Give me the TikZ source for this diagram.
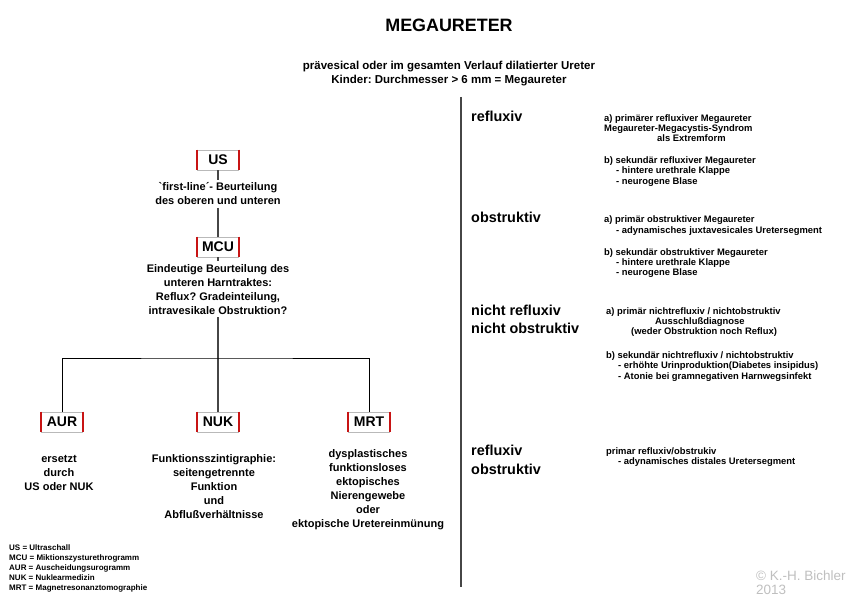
\documentclass[tikz,border=0pt]{standalone}
\usepackage{fontspec}
\setmainfont{Liberation Sans}
\frenchspacing
\definecolor{tagred}{RGB}{200,20,20}
\definecolor{trunkgray}{RGB}{70,70,70}

\begin{document}
\begin{tikzpicture}[
  x=1pt, y=-1pt,
  tag/.style={rectangle, draw=gray!55, fill=white, line width=0.8pt,
              minimum width=41pt, minimum height=20pt, inner sep=0pt,
              font=\fontsize{14}{14}\selectfont\bfseries},
  redbar/.style={draw=tagred, line width=2.6pt},
  treetext/.style={align=center, inner sep=0pt, outer sep=3pt, anchor=base,
                   font=\fontsize{11}{14}\selectfont\bfseries},
  kind/.style={align=left, inner sep=0pt, anchor=base west,
               font=\fontsize{14.4}{18.3}\selectfont\bfseries},
  detail/.style={align=left, inner sep=0pt, anchor=base west,
                 font=\fontsize{9.4}{10.4}\selectfont\bfseries},
  legend/.style={align=left, inner sep=0pt, anchor=base west,
                 font=\fontsize{8}{10}\selectfont\bfseries},
  trunk/.style={draw=trunkgray, line width=1.8pt},
  branch/.style={draw=black, line width=0.8pt}
]
\useasboundingbox (0,0) rectangle (855,599);

% title (multi-line nodes sit on the baseline of their last line)
\node[font=\fontsize{17.9}{18}\selectfont\bfseries] (title) at (449,25) {MEGAURETER};
\node[treetext, font=\fontsize{11.5}{14}\selectfont\bfseries] (subtitle) at (449,83.1)
  {prävesical oder im gesamten Verlauf dilatierter Ureter\\
   Kinder: Durchmesser > 6 mm = Megaureter};

% diagnostic tree
\node[tag] (us)  at (218,160) {US};
\node[treetext] (ustext) at (218,204.7)
  {\textasciigrave first-line´- Beurteilung\\des oberen und unteren};
\node[tag] (mcu) at (218,247) {MCU};
\node[treetext] (mcutext) at (218,314.3)
  {Eindeutige Beurteilung des\\unteren Harntraktes:\\
   Reflux? Gradeinteilung,\\intravesikale Obstruktion?};

\node[tag] (aur) at (62,422)  {AUR};
\node[tag] (nuk) at (218,422) {NUK};
\node[tag] (mrt) at (369,422) {MRT};

\node[treetext] (aurtext) at (59,490.3) {ersetzt\\durch\\US oder NUK};
\node[treetext] (nuktext) at (214,518.3)
  {Funktionsszintigraphie:\\seitengetrennte\\Funktion\\und\\Abflußverhältnisse};
\node[treetext] (mrttext) at (368,527.3)
  {dysplastisches\\funktionsloses\\ektopisches\\Nierengewebe\\oder\\
   ektopische Uretereinmünung};

\draw[trunk] (us) -- (ustext);
\draw[trunk] (ustext) -- (mcu);
\draw[trunk] (mcu) -- (mcutext);
\draw[trunk] (mcutext) -- (nuk);
\coordinate (split) at (218,358);
\draw[branch] (aur.north) |- (split) -| (mrt.north);

\foreach \n in {us,mcu,aur,nuk,mrt}
  \draw[redbar] (\n.north west) -- (\n.south west)
                (\n.north east) -- (\n.south east);

% legend
\node[legend] (abbrev) at (9,590.2)
  {US = Ultraschall\\MCU = Miktionszysturethrogramm\\
   AUR = Auscheidungsurogramm\\NUK = Nuklearmedizin\\
   MRT = Magnetresonanztomographie};

% separator
\coordinate (septop) at (461,97);
\coordinate (sepbot) at (461,587);
\draw[trunk] (septop) -- (sepbot);

% forms
\node[kind] (refl)  at (471,121.9) {refluxiv};
\node[kind] (obstr) at (471,222.9) {obstruktiv};
\node[kind] (nrno)  at (471,333.5) {nicht refluxiv\\nicht obstruktiv};
\node[kind] (robs)  at (471,474.2) {refluxiv\\obstruktiv};

\node[detail] (reflA) at (604,141.9)
  {a) primärer refluxiver Megaureter\\Megaureter-Megacystis-Syndrom\\
   \hspace*{53pt}als Extremform};
\node[detail] (reflB) at (604,184.2)
  {b) sekundär refluxiver Megaureter\\
   \hspace*{12pt}- hintere urethrale Klappe\\
   \hspace*{12pt}- neurogene Blase};
\node[detail] (obstrA) at (604,233.1)
  {a) primär obstruktiver Megaureter\\
   \hspace*{12pt}- adynamisches juxtavesicales Uretersegment};
\node[detail] (obstrB) at (604,275.9)
  {b) sekundär obstruktiver Megaureter\\
   \hspace*{12pt}- hintere urethrale Klappe\\
   \hspace*{12pt}- neurogene Blase};
\node[detail] (nrnoA) at (606,334.9)
  {a) primär nichtrefluxiv / nichtobstruktiv\\
   \hspace*{49pt}Ausschlußdiagnose\\
   \hspace*{25pt}(weder Obstruktion noch Reflux)};
\node[detail] (nrnoB) at (606,379.2)
  {b) sekundär nichtrefluxiv / nichtobstruktiv\\
   \hspace*{12pt}- erhöhte Urinproduktion(Diabetes insipidus)\\
   \hspace*{12pt}- Atonie bei gramnegativen Harnwegsinfekt};
\node[detail] (robsA) at (606,464.5)
  {primar refluxiv/obstrukiv\\
   \hspace*{12pt}- adynamisches distales Uretersegment};

% credit
\node[align=left, inner sep=0pt, anchor=base west, text=gray!50,
      font=\fontsize{13.5}{13.5}\selectfont] (credit) at (756,594)
  {© K.-H. Bichler\\2013};
\end{tikzpicture}
\end{document}
